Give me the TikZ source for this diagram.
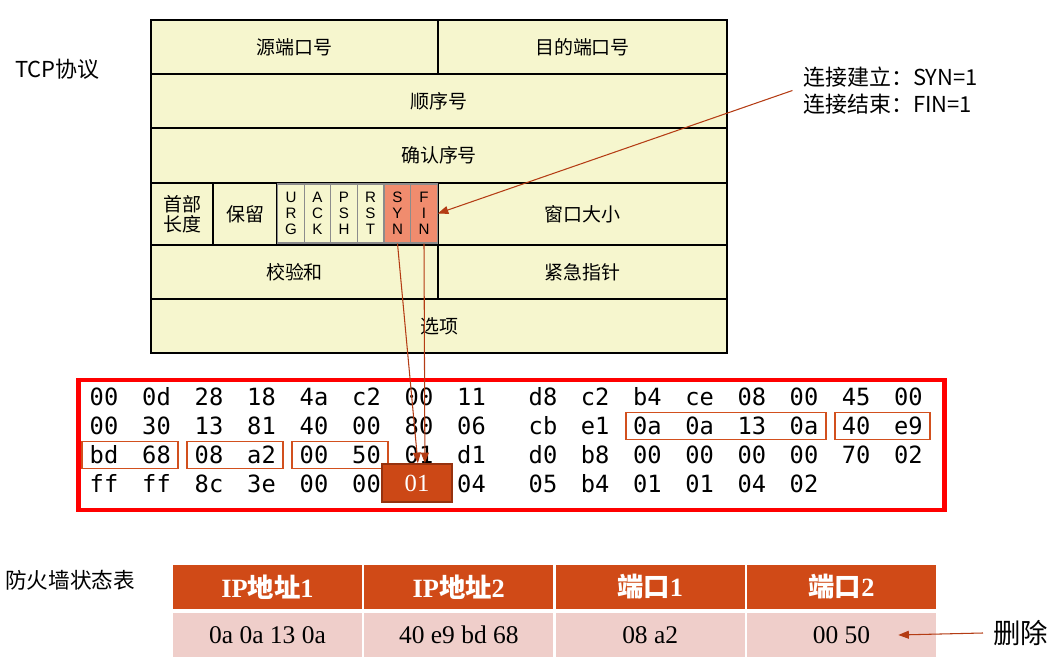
\documentclass[tikz,border=0pt]{standalone}
\usepackage{fontspec}
\setmainfont{Liberation Serif}
\newfontfamily\cjk{Noto Sans CJK SC}
\newfontfamily\arial{Liberation Sans}
\newfontfamily\hexfont{DejaVu Sans Mono}
\usetikzlibrary{arrows.meta,fit}
\definecolor{tcpfill}{RGB}{246,246,206}
\definecolor{flagred}{RGB}{240,140,110}
\definecolor{hexred}{RGB}{255,0,0}
\definecolor{hlorange}{RGB}{210,80,30}
\definecolor{linkred}{RGB}{180,60,20}
\definecolor{valfill}{RGB}{204,72,22}
\definecolor{valedge}{RGB}{150,50,15}
\definecolor{tabhead}{RGB}{208,74,23}
\definecolor{tabbody}{RGB}{239,206,202}

\begin{document}
\begin{tikzpicture}[
			x=0.02cm, y=-0.02cm,
			field/.style={
				draw=black,
				line width=1.1pt,
				fill=tcpfill,
				inner sep=0pt,
				align=center,
				font=\cjk\fontsize{10.8}{11.4}\selectfont
			},
			flagbit/.style={
				draw=black!45,
				line width=0.6pt,
				fill=tcpfill,
				inner sep=0pt,
				align=center,
				minimum width=0.53cm,
				minimum height=1.18cm,
				font=\arial\fontsize{8.6}{9.1}\selectfont
			},
			sidetext/.style={
				inner sep=0pt,
				anchor=west,
				font=\cjk\fontsize{12.5}{15.3}\selectfont
			},
			byte/.style={
				inner sep=0pt,
				text height=9.8pt,
				text depth=0pt,
				font=\hexfont\fontsize{13.5}{16}\selectfont
			},
			hilite/.style={
				draw=hlorange,
				line width=1.1pt,
				inner xsep=4pt,
				inner ysep=2.6pt
			},
			link/.style={
				-{Triangle[length=6pt,width=4.5pt]},
				line width=0.6pt,
				draw=linkred
			},
			thcell/.style={
				draw=white,
				line width=1.2pt,
				fill=tabhead,
				text=white,
				inner sep=0pt,
				minimum width=3.825cm,
				minimum height=0.92cm,
				font=\bfseries\fontsize{15}{17}\selectfont
			},
			tdcell/.style={
				draw=white,
				line width=1.2pt,
				fill=tabbody,
				inner sep=0pt,
				minimum width=3.825cm,
				minimum height=0.92cm,
				font=\fontsize{14.5}{16}\selectfont
			}
			]
			
			\useasboundingbox (0,0) rectangle (1062,665);
			
			% TCP header
			\node[sidetext] (tcp) at (15,69) {TCP协议};
			
			\node[field,minimum width=5.74cm,minimum height=1.08cm] (src) at (294.5,47) {源端口号};
			\node[field,minimum width=5.78cm,minimum height=1.08cm] (dst) at (582.5,47) {目的端口号};
			\node[field,minimum width=11.52cm,minimum height=1.08cm] (seq) at (439,101) {顺序号};
			\node[field,minimum width=11.52cm,minimum height=1.1cm] (ack) at (439,155.5) {确认序号};
			\node[field,minimum width=1.24cm,minimum height=1.24cm] (hlen) at (182,214) {首部\\长度};
			\node[field,minimum width=1.28cm,minimum height=1.24cm] (resv) at (245,214) {保留};
			\node[field,minimum width=3.22cm,minimum height=1.24cm] (flags) at (357.5,214) {};
			\node[field,minimum width=5.78cm,minimum height=1.24cm] (win) at (582.5,214) {窗口大小};
			\node[field,minimum width=5.74cm,minimum height=1.08cm] (csum) at (294.5,272) {校验和};
			\node[field,minimum width=5.78cm,minimum height=1.08cm] (urgp) at (582.5,272) {紧急指针};
			\node[field,minimum width=11.52cm,minimum height=1.08cm] (opt) at (439,326) {选项};
			
			% flag bits
			\node[flagbit] (urg) at (291,213.5) {U\\R\\G};
			\node[flagbit] (ackf) at (317.5,213.5) {A\\C\\K};
			\node[flagbit] (psh) at (344,213.5) {P\\S\\H};
			\node[flagbit] (rst) at (370.5,213.5) {R\\S\\T};
			\node[flagbit,fill=flagred] (syn) at (397.5,213.5) {S\\Y\\N};
			\node[flagbit,fill=flagred] (fin) at (424,213.5) {F\\I\\N};
			
			% note
			\node[sidetext,align=left] (anno) at (803,90.5) {连接建立：SYN=1\\连接结束：FIN=1};
			
			% captured packet
			\node[draw=hexred,line width=2.8pt,minimum width=17.34cm,minimum height=2.6cm] (dump) at (511.5,445) {};
			
			\foreach \hb [count=\c] in {00,0d,28,18,4a,c2,00,11,d8,c2,b4,ce,08,00,45,00} {
				\pgfmathsetmacro\hx{\c<9 ? 104+52.5*(\c-1) : 543+52.2*(\c-9)}
				\node[byte] (h1-\c) at (\hx,397) {\hb};
			}
			\foreach \hb [count=\c] in {00,30,13,81,40,00,80,06,cb,e1,0a,0a,13,0a,40,e9} {
				\pgfmathsetmacro\hx{\c<9 ? 104+52.5*(\c-1) : 543+52.2*(\c-9)}
				\node[byte] (h2-\c) at (\hx,426) {\hb};
			}
			\foreach \hb [count=\c] in {bd,68,08,a2,00,50,01,d1,d0,b8,00,00,00,00,70,02} {
				\pgfmathsetmacro\hx{\c<9 ? 104+52.5*(\c-1) : 543+52.2*(\c-9)}
				\node[byte] (h3-\c) at (\hx,455) {\hb};
			}
			\foreach \c/\hb in {1/ff,2/ff,3/8c,4/3e,5/00,6/00,8/04,9/05,10/b4,11/01,12/01,13/04,14/02} {
				\pgfmathsetmacro\hx{\c<9 ? 104+52.5*(\c-1) : 543+52.2*(\c-9)}
				\node[byte] (h4-\c) at (\hx,484) {\hb};
			}
			
			% fields found in the packet
			\node[hilite,fit=(h2-11)(h2-14)] (ipa) {};
			\node[hilite,fit=(h2-15)(h2-16)] (ipb1) {};
			\node[hilite,fit=(h3-1)(h3-2)] (ipb2) {};
			\node[hilite,fit=(h3-3)(h3-4)] (porta) {};
			\node[hilite,fit=(h3-5)(h3-6)] (portb) {};
			
			\node[fill=valfill,draw=valedge,line width=1pt,text=white,
			minimum width=1.4cm,minimum height=0.76cm,
			font=\fontsize{14}{16}\selectfont] (flagval) at (417,483) {01};
			
			\draw[link] (syn.south) -- ([xshift=0.5pt]flagval.north);
			\draw[link] (fin.south) -- ([xshift=4.5pt]flagval.north);
			\draw[link] ([xshift=-6pt]anno.west) -- (fin.east);
			
			% state table
			\node[sidetext,font=\cjk\fontsize{12.3}{15}\selectfont] (tabname) at (5,580) {防火墙状态表};
			
			\node[thcell] (ip1) at (267.5,587) {IP{\cjk 地址}1};
			\node[thcell] (ip2) at (458.8,587) {IP{\cjk 地址}2};
			\node[thcell] (port1) at (650.2,587) {{\cjk 端口}1};
			\node[thcell] (port2) at (841.5,587) {{\cjk 端口}2};
			
			\node[tdcell] (ip1v) at (267.5,635) {0a 0a 13 0a};
			\node[tdcell] (ip2v) at (458.8,635) {40 e9 bd 68};
			\node[tdcell] (port1v) at (650.2,635) {08 a2};
			\node[tdcell] (port2v) at (841.5,635) {00 50};
			
			\node[sidetext,font=\cjk\fontsize{15.6}{18}\selectfont] (del) at (993,633) {删除};
			\draw[link] ([xshift=-5.7pt]del.west) -- ([xshift=-22.7pt]port2v.east);
			
		\end{tikzpicture}
\end{document}
